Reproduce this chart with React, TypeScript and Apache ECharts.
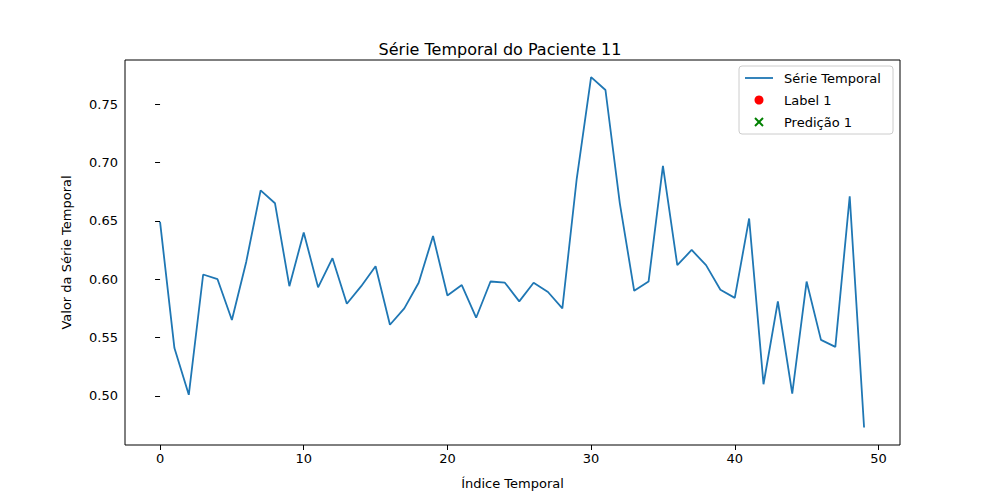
import React, { useEffect, useRef } from "react";
import * as echarts from "echarts";

const indices: number[] = Array.from({ length: 50 }, (_, i) => i);
const values: number[] = [
  0.649, 0.541, 0.501, 0.604, 0.600, 0.565, 0.615, 0.676, 0.665, 0.594,
  0.640, 0.593, 0.618, 0.579, 0.594, 0.611, 0.561, 0.575, 0.597, 0.637,
  0.586, 0.595, 0.567, 0.598, 0.597, 0.581, 0.597, 0.589, 0.575, 0.686,
  0.773, 0.762, 0.665, 0.590, 0.598, 0.697, 0.612, 0.625, 0.612, 0.591,
  0.584, 0.652, 0.510, 0.581, 0.502, 0.598, 0.548, 0.542, 0.671, 0.473,
];
const xTicks = [0, 10, 20, 30, 40, 50];
const yTicks = [0.5, 0.55, 0.6, 0.65, 0.7, 0.75];
const legendNames = ["Série Temporal", "Label 1", "Predição 1"];

const FONT = "DejaVu Sans";

export default function App() {
  const ref = useRef<HTMLDivElement>(null);
  useEffect(() => {
    document.body.style.margin = "0";
    const chart = echarts.init(ref.current!, null, { renderer: "svg" });
    const txt = { fontFamily: FONT, fontSize: 13, color: "#000" };
    chart.setOption({
      animation: false,
      backgroundColor: "#fff",
      title: {
        text: "Série Temporal do Paciente 11",
        left: "center",
        top: 36,
        textStyle: { fontFamily: FONT, fontSize: 16, fontWeight: "normal", color: "#000" },
      },
      grid: { left: 125, right: 100, top: 60, bottom: 55, show: true, borderColor: "#000", borderWidth: 1 },
      xAxis: {
        type: "value",
        min: -2.44,
        max: 51.5,
        name: "Índice Temporal",
        nameLocation: "middle",
        nameGap: 32,
        nameTextStyle: txt,
        splitLine: { show: false },
        axisLine: { show: false },
        axisTick: { show: true, customValues: xTicks, length: 5, lineStyle: { color: "#000" } },
        axisLabel: { ...txt, customValues: xTicks, margin: 7 },
      },
      yAxis: {
        type: "value",
        min: 0.458,
        max: 0.7877,
        name: "Valor da Série Temporal",
        nameLocation: "middle",
        nameGap: 52,
        nameTextStyle: txt,
        splitLine: { show: false },
        axisLine: { show: false },
        axisTick: { show: true, customValues: yTicks, length: 5, lineStyle: { color: "#000" } },
        axisLabel: { ...txt, customValues: yTicks, margin: 7, formatter: (v: number) => v.toFixed(2) },
      },
      series: [
        {
          name: legendNames[0],
          type: "line",
          data: indices.map((x, i) => [x, values[i]]),
          showSymbol: false,
          lineStyle: { color: "#1f77b4", width: 1.8 },
        },
      ],
      graphic: [
        { type: "rect", shape: { x: 739, y: 66, width: 154, height: 68, r: 3 }, style: { fill: "#fff", stroke: "#ccc", lineWidth: 1 } },
        { type: "line", shape: { x1: 745, y1: 78, x2: 773, y2: 78 }, style: { stroke: "#1f77b4", lineWidth: 1.8 } },
        { type: "text", x: 784, y: 78, style: { text: legendNames[0], font: `13px ${FONT}`, fill: "#000", verticalAlign: "middle" } },
        { type: "circle", shape: { cx: 759, cy: 100, r: 4.5 }, style: { fill: "red" } },
        { type: "text", x: 784, y: 100, style: { text: legendNames[1], font: `13px ${FONT}`, fill: "#000", verticalAlign: "middle" } },
        { type: "line", shape: { x1: 755, y1: 118, x2: 763, y2: 126 }, style: { stroke: "green", lineWidth: 2 } },
        { type: "line", shape: { x1: 755, y1: 126, x2: 763, y2: 118 }, style: { stroke: "green", lineWidth: 2 } },
        { type: "text", x: 784, y: 122, style: { text: legendNames[2], font: `13px ${FONT}`, fill: "#000", verticalAlign: "middle" } },
      ],
    });
    return () => chart.dispose();
  }, []);
  return <div ref={ref} style={{ width: 1000, height: 500 }} />;
}
